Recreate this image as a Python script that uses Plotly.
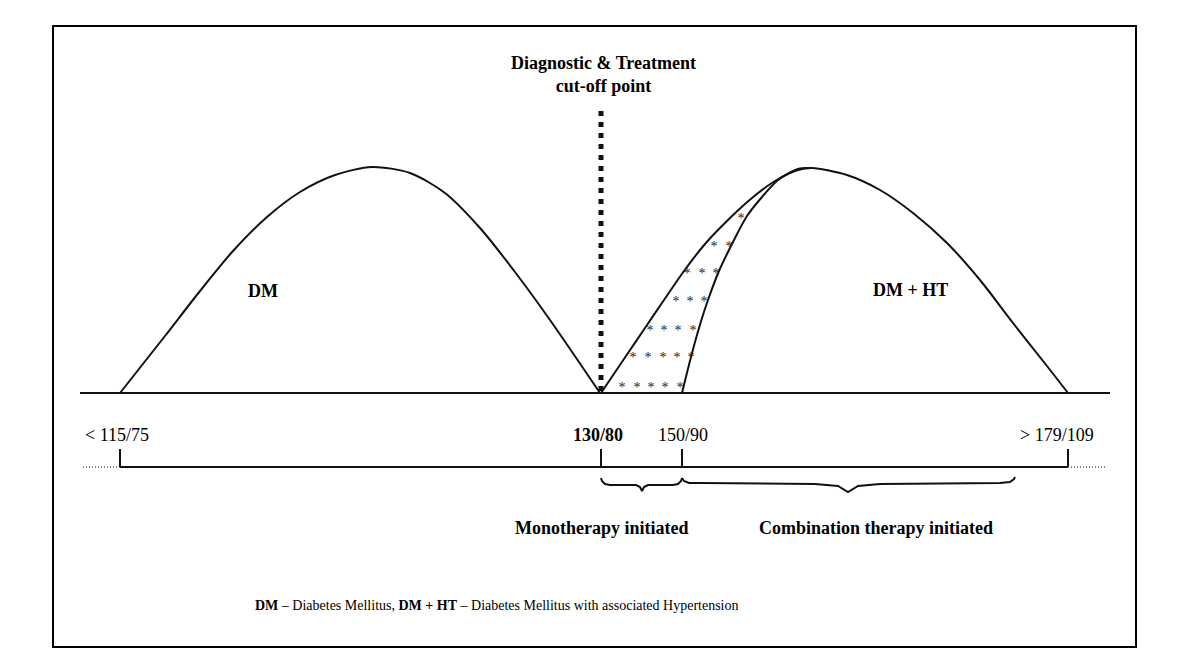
import plotly.graph_objects as go

# --- curve outlines (page pixels, y grows downward) ---
dm_x = [120, 165, 200, 233, 267, 300, 335, 372, 410, 445, 480, 515, 550, 600]
dm_y = [393, 336, 291, 251, 217, 192, 175, 167, 173, 193, 228, 272, 320, 393]

# DM + HT: outer edge starting at 130/80, over the peak, down to > 179/109
dmht_x = [601, 626, 645, 664, 684, 705, 730, 752, 775, 798, 812, 847, 880, 913, 947, 980, 1013, 1047, 1068]
dmht_y = [393, 356, 328, 300, 271, 244, 218, 198, 181, 170, 168, 175, 190, 213, 243, 280, 323, 366, 393]

# inner edge starting at 150/90
inner_x = [682, 691, 699, 708, 719, 732, 747, 762, 778, 798, 812]
inner_y = [393, 357, 328, 300, 271, 244, 216, 197, 180, 169, 168]

# asterisks between the two edges
star_x = [622, 637, 651, 665, 680,
          633, 648, 663, 677, 691,
          650, 664, 678, 693,
          676, 690, 704,
          687, 702, 716,
          714, 729,
          741]
star_y = [385] * 5 + [355] * 5 + [328] * 4 + [299] * 3 + [271] * 3 + [244] * 2 + [216]

# blood pressure scale
tick_x = [120, 601, 682, 1068]
tick_labels = ["&lt; 115/75", "<b>130/80</b>", "150/90", "&gt; 179/109"]

# braces under the scale
mono_x = [601, 602, 605, 610, 636, 640, 642, 644, 648, 673, 678, 681, 682]
mono_y = [478, 481, 484, 485, 485, 487, 491, 487, 485, 485, 484, 481, 478]
combo_x = [682, 684, 689, 700, 815, 838, 848, 858, 880, 1000, 1010, 1014, 1015]
combo_y = [478, 481, 483, 483, 484, 486, 492, 486, 484, 483, 482, 479, 477]

BASE_Y = 393
SCALE_Y = 467
FONT = "Liberation Serif, Times New Roman, serif"
INK = "#111111"

fig = go.Figure()

def line(x, y, width=2, dash="solid", shape="spline", color=INK):
    fig.add_trace(go.Scatter(x=x, y=y, mode="lines", hoverinfo="skip",
                             line=dict(color=color, width=width, dash=dash, shape=shape, smoothing=0.8)))

# baseline
line([80, 1110], [BASE_Y, BASE_Y], shape="linear")
# humps
line(dm_x, dm_y)
line(dmht_x, dmht_y)
line(inner_x, inner_y)

# cut-off dotted line
line([tick_x[1], tick_x[1]], [111, 391], width=5, dash="5px,6px", shape="linear")

# stars
fig.add_trace(go.Scatter(x=star_x, y=[v + 3 for v in star_y], mode="text", text=["*"] * len(star_x),
                         textfont=dict(family=FONT, size=14, color="#222222"), hoverinfo="skip"))

# scale line, ticks and dotted ends
line([tick_x[0], tick_x[-1]], [SCALE_Y, SCALE_Y], shape="linear")
for tx in tick_x:
    line([tx, tx], [449, SCALE_Y], shape="linear")
line([83, tick_x[0]], [SCALE_Y, SCALE_Y], width=1, dash="1px,2px", shape="linear")
line([tick_x[-1], 1105], [SCALE_Y, SCALE_Y], width=1, dash="1px,2px", shape="linear")

# braces
line(mono_x, mono_y, shape="linear")
line(combo_x, combo_y, shape="linear")

ann = []
def label(x, y, text, size=18):
    ann.append(dict(x=x, y=y, xref="x", yref="y", text=text, showarrow=False,
                    font=dict(family=FONT, size=size, color="#000000")))

label_x = [117, 598, 683, 1057]
for lx, t in zip(label_x, tick_labels):
    label(lx, 435, t)

label(603, 74, "<b>Diagnostic &amp; Treatment</b><br><b>cut-off point</b>")
label(263, 291, "<b>DM</b>")
label(910, 290, "<b>DM + HT</b>")
label(602, 528, "<b>Monotherapy initiated</b>")
label(876, 528, "<b>Combination therapy initiated</b>")
label(497, 605, "<b>DM</b> – Diabetes Mellitus, <b>DM + HT</b> – Diabetes Mellitus with associated Hypertension", size=14)

fig.update_layout(
    width=1184, height=650,
    margin=dict(l=0, r=0, t=0, b=0),
    paper_bgcolor="white", plot_bgcolor="white",
    showlegend=False,
    xaxis=dict(range=[8, 1192], visible=False, fixedrange=True),
    yaxis=dict(range=[658, 8], visible=False, fixedrange=True),
    annotations=ann,
    shapes=[dict(type="rect", xref="x", yref="y", x0=53, y0=26, x1=1136, y1=647,
                 line=dict(color="#000000", width=2))],
)

fig.write_html("out.html")
